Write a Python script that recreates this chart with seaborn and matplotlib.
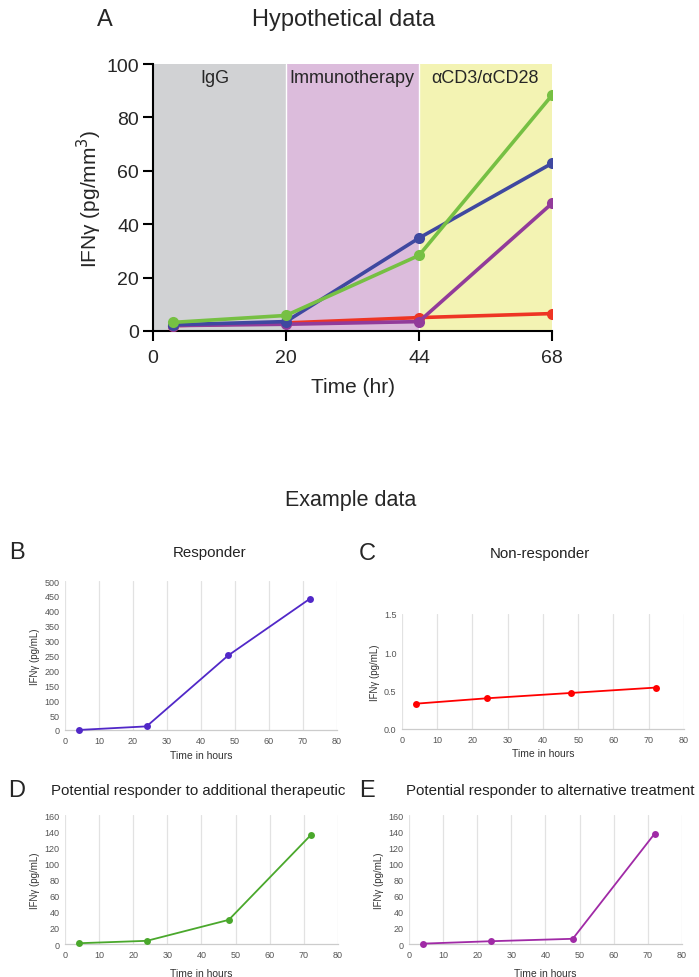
import numpy as np
import pandas as pd
import matplotlib
matplotlib.use("Agg")
import matplotlib.pyplot as plt
import seaborn as sns

# Panel A - hypothetical data
hyp_times = [3, 20, 44, 68]
hyp_red = [2.0, 3.0, 5.0, 6.5]
hyp_purple = [2.0, 2.5, 3.5, 47.8]
hyp_blue = [2.3, 3.5, 34.8, 62.8]
hyp_green = [3.2, 5.8, 28.3, 88.3]
hyp_colors = ["#ee3524", "#923b9a", "#3f48a0", "#76c043"]
phase_edges = [0, 20, 44, 68]
phase_names = ["IgG", "Immunotherapy", "αCD3/αCD28"]
phase_colors = ["#d1d2d4", "#dcbcdc", "#f3f3b3"]
a_ticks = [0, 20, 44, 68]

# Panels B-E - example data
ex_times = [4, 24, 48, 72]
responder = [0, 12, 250, 440]
non_responder = [0.33, 0.40, 0.47, 0.54]
additional = [1, 4, 30, 135]
alternative = [0.5, 3.5, 6.5, 137]

sns.set_theme(style="white")
plt.rcParams["font.family"] = ["Liberation Sans", "DejaVu Sans"]
narrow = ["Liberation Sans Narrow", "Liberation Sans", "DejaVu Sans"]

fig = plt.figure(figsize=(6.99, 9.78), dpi=100)

# ---- Panel A ----
axA = fig.add_axes([0.2189, 0.6606, 0.5708, 0.2729])


def fwd(x):
    return np.interp(x, phase_edges, [0, 1, 2, 3])


def inv(x):
    return np.interp(x, [0, 1, 2, 3], phase_edges)


axA.set_xscale("function", functions=(fwd, inv))
axA.set_xlim(0, 68)
axA.set_ylim(0, 100)
label_x = [0.155, 0.499, 0.833]
for i, name in enumerate(phase_names):
    axA.axvspan(phase_edges[i], phase_edges[i + 1], color=phase_colors[i], lw=0, zorder=0)
    axA.text(label_x[i], 0.95, name, transform=axA.transAxes, ha="center",
             va="center", fontsize=13, family=narrow)
for e in phase_edges[1:-1]:
    axA.axvline(e, color="white", lw=1, zorder=1)

dfA = pd.DataFrame({
    "time": hyp_times * 4,
    "value": hyp_red + hyp_purple + hyp_blue + hyp_green,
    "group": ["red"] * 4 + ["purple"] * 4 + ["blue"] * 4 + ["green"] * 4,
})
sns.lineplot(data=dfA, x="time", y="value", hue="group", palette=hyp_colors,
             marker="o", markersize=8, markeredgewidth=0, linewidth=2.6,
             legend=False, ax=axA, zorder=3)
axA.set_xticks(a_ticks)
axA.set_xticklabels([str(t) for t in a_ticks], family=narrow, fontsize=14)
axA.set_yticks([0, 20, 40, 60, 80, 100])
axA.set_yticklabels(["0", "20", "40", "60", "80", "100"], family=narrow, fontsize=14)
axA.tick_params(axis="both", direction="out", length=7, width=1.5, color="black",
                bottom=True, left=True)
axA.tick_params(axis="x", pad=6)
axA.tick_params(axis="y", pad=3)
for s in ["top", "right"]:
    axA.spines[s].set_visible(False)
for s in ["left", "bottom"]:
    axA.spines[s].set_color("black")
    axA.spines[s].set_linewidth(1.5)
axA.set_xlabel("Time (hr)", fontsize=15, labelpad=8)
axA.set_ylabel("IFNγ (pg/mm$^3$)", fontsize=15, labelpad=2)
fig.text(0.492, 0.9796, "Hypothetical data", ha="center", va="center", fontsize=17, family=narrow)
fig.text(0.150, 0.9796, "A", ha="center", va="center", fontsize=17)

fig.text(0.502, 0.488, "Example data", ha="center", va="center", fontsize=15.5)

# ---- Panels B-E ----
panels = [
    ("B", "Responder", responder, "#5128c8", [0.093, 0.2526, 0.389, 0.1523],
     np.arange(0, 501, 50), [0, 500], "{:.0f}", 0.024, 0.4346, 0.300, 0.4346, 4),
    ("C", "Non-responder", non_responder, "#ff0000", [0.575, 0.2536, 0.4035, 0.1176],
     [0.0, 0.5, 1.0, 1.5], [0, 1.5], "{:.1f}", 0.525, 0.4335, 0.772, 0.4335, 3),
    ("D", "Potential responder to additional therapeutic", additional, "#4aa82c",
     [0.093, 0.0337, 0.3905, 0.1319], np.arange(0, 161, 20), [0, 160], "{:.0f}",
     0.024, 0.1912, 0.283, 0.1912, 7),
    ("E", "Potential responder to alternative treatment", alternative, "#a02aa6",
     [0.585, 0.0337, 0.3907, 0.1319], np.arange(0, 161, 20), [0, 160], "{:.0f}",
     0.525, 0.1912, 0.787, 0.1912, 7),
]

for letter, title, vals, color, rect, yt, ylim, fmt, lx, ly, tx, ty, xpad in panels:
    ax = fig.add_axes(rect)
    sns.lineplot(x=ex_times, y=vals, color=color, marker="o", markersize=5,
                 markeredgewidth=0, linewidth=1.3, ax=ax, zorder=3)
    ax.set_xlim(0, 80)
    ax.set_ylim(*ylim)
    ax.set_xticks(np.arange(0, 81, 10))
    ax.set_yticks(yt)
    ax.set_yticklabels([fmt.format(v) for v in yt])
    ax.tick_params(axis="both", length=0, labelsize=6.5, labelcolor="#555555", pad=4)
    ax.grid(axis="x", color="#e2e2e2", lw=0.9)
    ax.grid(axis="y", visible=False)
    for s in ["top", "right", "left"]:
        ax.spines[s].set_visible(False)
    ax.spines["bottom"].set_color("#cccccc")
    ax.spines["bottom"].set_linewidth(0.9)
    ax.set_xlabel("Time in hours", fontsize=7.5, color="#333333", labelpad=xpad)
    ax.set_ylabel("IFNγ (pg/mL)", fontsize=7, color="#333333", labelpad=3)
    for ln in ax.lines:
        ln.set_clip_on(False)
    fig.text(lx, ly, letter, ha="center", va="center", fontsize=17)
    fig.text(tx, ty, title, ha="center", va="center", fontsize=10.8, color="#222222")

fig.savefig("out.png", dpi=100)
